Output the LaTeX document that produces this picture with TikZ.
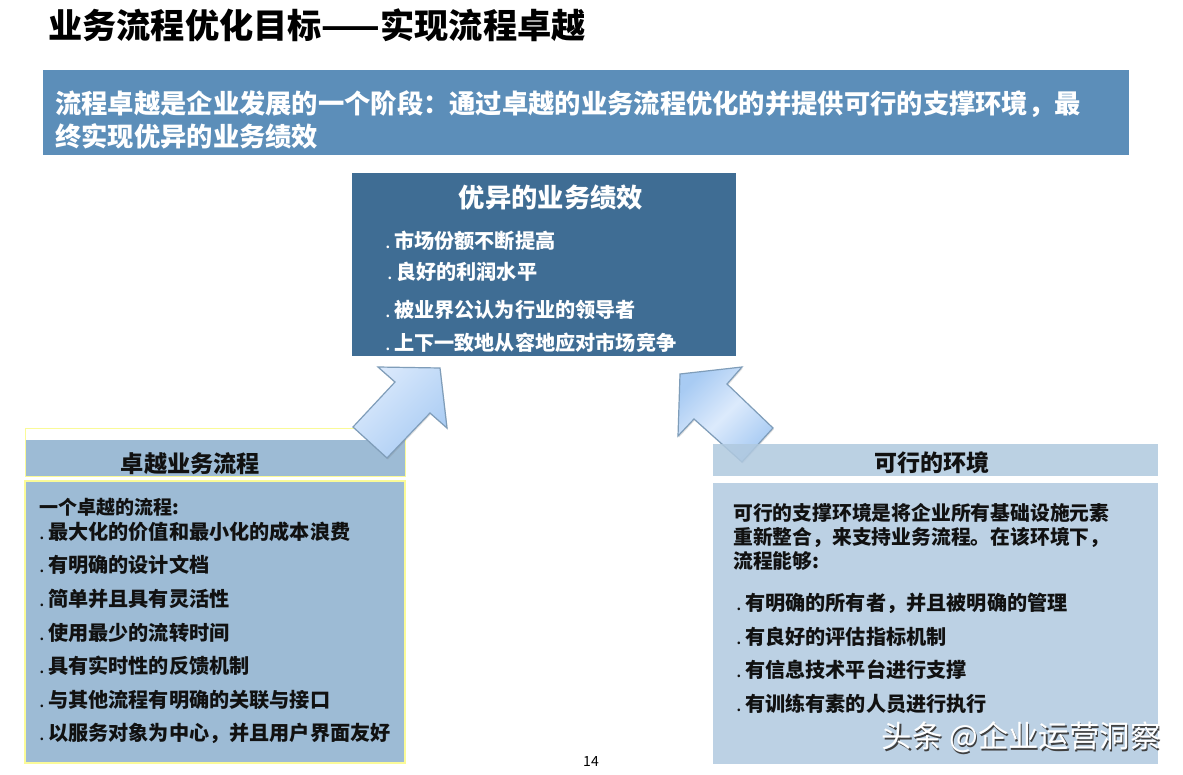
\documentclass[tikz,border=0pt]{standalone}
\usepackage{fontspec}
\setmainfont{Noto Sans CJK SC}
\usetikzlibrary{shadows}
\definecolor{banner}{HTML}{5C8EB9}
\definecolor{darkbox}{HTML}{3F6D94}
\definecolor{leftbox}{HTML}{9DBBD5}
\definecolor{rightbox}{HTML}{BCD1E4}
\definecolor{rightboxhead}{HTML}{B0C9DF}
\definecolor{edgeyel}{HTML}{FAFA98}
\definecolor{arrowedge}{HTML}{7F9DB9}
\definecolor{arrowlight}{HTML}{DCEAFC}
\definecolor{arrowmid}{HTML}{C6DDF8}
\definecolor{arrowdeep}{HTML}{A8CBF3}
\definecolor{ink}{HTML}{111111}
\newcommand\fs[1]{\fontsize{#1}{#1}\selectfont}
\newcommand\bul{\makebox[9pt][l]{\mdseries .}}
\tikzset{
 txt/.style={inner sep=0pt,anchor=west,font=\bfseries\fs{20.15},text=ink},
 wtxt/.style={txt,text=white},
 blockarrow/.style={draw=arrowedge,line width=1.2pt,line join=miter,
   drop shadow={opacity=.25,shadow xshift=.8pt,shadow yshift=-1.5pt}},
}
\begin{document}
\begin{tikzpicture}[x=1pt,y=-1pt]
\useasboundingbox (0,0) rectangle (1183,775);
\fill[white] (0,0) rectangle (1183,775);
% title
\node[txt,font=\bfseries\fs{34.2},text=black] (title) at (48,25) {业务流程优化目标——实现流程卓越};
% banner
\fill[banner] (43,70) rectangle (1129,155);
\node[wtxt,font=\bfseries\fs{26.3}] (b1) at (55,104) {流程卓越是企业发展的一个阶段：通过卓越的业务流程优化的并提供可行的支撑环境，最};
\node[wtxt,font=\bfseries\fs{26.3}] (b2) at (55,136) {终实现优异的业务绩效};
% dark box
\fill[darkbox] (352,173) rectangle (736,356);
\node[wtxt,font=\bfseries\fs{26.3},anchor=center] (dh) at (551,198) {优异的业务绩效};
\node[wtxt] (d1) at (385,241) {\bul 市场份额不断提高};
\node[wtxt] (d2) at (387,272) {\bul 良好的利润水平};
\node[wtxt] (d3) at (385,310) {\bul 被业界公认为行业的领导者};
\node[wtxt] (d4) at (385,343) {\bul 上下一致地从容地应对市场竞争};
% right arrow (under the right header)
\path[blockarrow,left color=arrowdeep,right color=arrowdeep,middle color=arrowlight,shading angle=45]
 (680,374) -- (742,367) -- (727,384) -- (773,428) -- (742,462) -- (694,419) -- (678,436) -- cycle;
% left boxes
\draw[edgeyel,line width=1pt] (25,428) rectangle (405,476);
\fill[leftbox] (25.5,440) rectangle (404.5,475.5);
\fill[leftbox] (25,481) rectangle (405,763);
\draw[edgeyel,line width=1.5pt] (25,481) rectangle (405,763);
\node[txt,font=\bfseries\fs{23.2},anchor=center] (lh) at (190.5,463.5) {卓越业务流程};
\node[txt,font=\bfseries\fs{19}] (l0) at (39,507) {一个卓越的流程:};
\node[txt] (l1) at (39,532) {\bul 最大化的价值和最小化的成本浪费};
\node[txt] (l2) at (39,565) {\bul 有明确的设计文档};
\node[txt] (l3) at (39,599) {\bul 简单并且具有灵活性};
\node[txt] (l4) at (39,633) {\bul 使用最少的流转时间};
\node[txt] (l5) at (39,666) {\bul 具有实时性的反馈机制};
\node[txt] (l6) at (39,700) {\bul 与其他流程有明确的关联与接口};
\node[txt] (l7) at (39,733) {\bul 以服务对象为中心，并且用户界面友好};
% left arrow
\path[blockarrow,left color=arrowlight,right color=arrowdeep,shading angle=45]
 (378,367) -- (440,368) -- (447,428) -- (430,413) -- (387,458) -- (353,427) -- (395,382) -- cycle;
% right boxes
\fill[rightboxhead,opacity=.85] (713,444) rectangle (1158,476);
\fill[rightbox] (713,483) rectangle (1158,764);
\node[txt,font=\bfseries\fs{23},anchor=center] (rh) at (932,462.5) {可行的环境};
\node[txt,font=\bfseries\fs{19.8}] (r1) at (733,513) {可行的支撑环境是将企业所有基础设施元素};
\node[txt,font=\bfseries\fs{19.8}] (r2) at (733,537) {重新整合，来支持业务流程。在该环境下，};
\node[txt,font=\bfseries\fs{19.8}] (r3) at (733,561) {流程能够:};
\node[txt] (r4) at (736,603) {\bul 有明确的所有者，并且被明确的管理};
\node[txt] (r5) at (736,637) {\bul 有良好的评估指标机制};
\node[txt] (r6) at (736,670) {\bul 有信息技术平台进行支撑};
\node[txt] (r7) at (736,704) {\bul 有训练有素的人员进行执行};
% page number
\node[inner sep=0pt,font=\fs{14},text=black] (pg) at (591,762) {14};
% watermark
\node[inner sep=0pt,anchor=west,font=\fs{30.4},text=black!75] (wms) at (882.8,738.8) {头条 @企业运营洞察};
\node[inner sep=0pt,anchor=west,font=\fs{30.4},text=white] (wm) at (881.5,737.5) {头条 @企业运营洞察};
\end{tikzpicture}
\end{document}
